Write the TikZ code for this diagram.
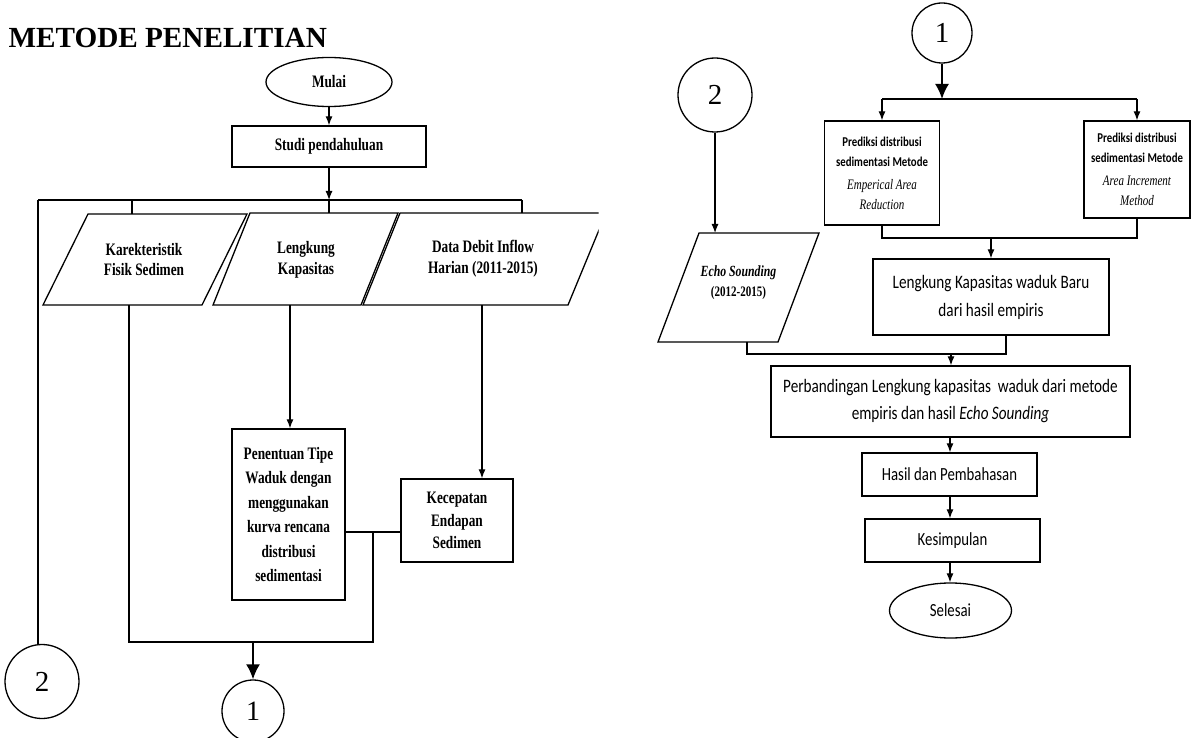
\documentclass[tikz,border=0pt]{standalone}
\usepackage{fontspec}
\setmainfont{Liberation Serif}
\newfontfamily\tnrc[FakeStretch=0.76]{Liberation Serif}
\newfontfamily\carc[FakeStretch=0.8]{Carlito}
\usetikzlibrary{shapes.geometric,arrows.meta,calc}
\begin{document}
\begin{tikzpicture}[x=1pt,y=-1pt,
  line width=1.2pt,
  box/.style={draw, line width=1.3pt, inner sep=0pt, align=center},
  lt/.style={font=\tnrc\bfseries\fontsize{17.5}{20.7}\selectfont, align=center, inner sep=0pt},
  cf/.style={font=\carc\fontsize{19}{28}\selectfont},
  pf/.style={font=\carc\bfseries\fontsize{13.5}{20}\selectfont},
  arr/.style={-{Latex[length=9pt,width=7pt]}, line width=1.2pt},
  bigarr/.style={-{Latex[length=15pt,width=14pt]}, line width=2pt},
  conn/.style={draw, circle, line width=1.3pt, inner sep=0pt, font=\fontsize{29}{30}\selectfont},
  para/.style={draw, line width=1.3pt, line join=miter},
]
\useasboundingbox (0,0) rectangle (1191,738);

% ---------- title ----------
\node[anchor=base west, inner sep=0pt, font=\bfseries\fontsize{29.2}{32}\selectfont] (title) at (8,48) {METODE PENELITIAN};

% ---------- left part ----------
\node[box, ellipse, minimum width=126pt, minimum height=49pt, lt] (mulai) at (329,82) {Mulai};
\node[box, minimum width=194pt, minimum height=41pt, lt] (studi) at (329,146.5) {Studi pendahuluan};
\draw[arr] (mulai) -- (studi);

\coordinate (jL) at (38,200);
\coordinate (jR) at (522,200);
\coordinate (j1) at (329,200);
\draw[arr] (studi) -- (j1);
\draw (jL) -- (jR);

% parallelograms
\draw[para] (88,214) -- (247,214) -- (202,305) -- (43,305) -- cycle;
\node[lt] (p1) at (144,259.5) {Karekteristik\\Fisik Sedimen};
\coordinate (p1top) at (132,214);
\coordinate (p1bot) at (129,305);

\draw[para] (250,213) -- (398,213) -- (361,305) -- (213,305) -- cycle;
\node[lt] (p2) at (306,259.5) {Lengkung\\Kapasitas};
\coordinate (p2top) at (329,213);
\coordinate (p2bot) at (290,305);

\begin{scope}
  \clip (0,0) rectangle (598.5,738);
  \draw[para] (400,213) -- (606,213) -- (568,305) -- (363,305) -- cycle;
\end{scope}
\node[lt] (p3) at (483,258.5) {Data Debit Inflow\\Harian (2011-2015)};
\coordinate (p3top) at (522,213);
\coordinate (p3bot) at (482,305);

\draw (p1top |- jL) -- (p1top);
\draw (j1) -- (p2top);
\draw (jR) -- (p3top);

\node[box, minimum width=113pt, minimum height=171pt,
      font=\tnrc\bfseries\fontsize{17.5}{24.4}\selectfont] (pen) at (288.5,514.5)
      {Penentuan Tipe\\Waduk dengan\\menggunakan\\kurva rencana\\distribusi\\sedimentasi};
\draw[arr] (p2bot) -- (p2bot |- pen.north);

\node[box, minimum width=112pt, minimum height=83pt,
      font=\tnrc\bfseries\fontsize{17.5}{22.5}\selectfont] (kec) at (457,520.5)
      {Kecepatan\\Endapan\\Sedimen};
\draw[arr] (p3bot) -- (p3bot |- kec.north);

\coordinate (m1) at (373,532);
\draw (pen.east |- m1) -- (kec.west |- m1);
\coordinate (bl) at (129,642);
\coordinate (br) at (374,642);
\coordinate (bm) at (253,642);
\draw (p1bot) -- (bl) -- (br);
\draw (m1) -- (m1 |- br);

\node[conn, minimum size=62pt, font=\fontsize{28}{30}\selectfont] (c1a) at (253,711) {1};
\draw[bigarr] (bm) -- (c1a.north);
\node[conn, minimum size=74pt] (c2a) at (42,681.5) {2};
\draw (jL) -- (jL |- c2a.north);

% ---------- right part ----------
\node[conn, minimum size=60pt] (c1b) at (942,33) {1};
\coordinate (k) at (942,99);
\draw[bigarr] (c1b) -- (k);
\coordinate (kL) at (882,99);
\coordinate (kR) at (1137,99);
\draw (kL) -- (kR);

\node[box, pf, minimum width=115pt, minimum height=104pt] (pr1) at (882,173)
  {Prediksi distribusi\\sedimentasi Metode\\[3pt]{\tnrc\mdseries\itshape\fontsize{14.5}{19}\selectfont Emperical Area}\\{\tnrc\mdseries\itshape\fontsize{14.5}{19}\selectfont Reduction}};
\node[box, pf, minimum width=106pt, minimum height=97pt] (pr2) at (1137,169.5)
  {Prediksi distribusi\\sedimentasi Metode\\[3pt]{\tnrc\mdseries\itshape\fontsize{14.5}{19}\selectfont Area Increment}\\{\tnrc\mdseries\itshape\fontsize{14.5}{19}\selectfont Method}};
\draw[arr] (kL) -- (kL |- pr1.north);
\draw[arr] (kR) -- (kR |- pr2.north);

\coordinate (q) at (991,238);
\draw (pr1.south) -- (pr1.south |- q) -- (pr2.south |- q) -- (pr2.south);

\node[box, cf, minimum width=236pt, minimum height=76pt] (lkb) at (991,297)
  {Lengkung Kapasitas waduk Baru\\dari hasil empiris};
\draw[arr] (q) -- (lkb.north);

\node[conn, minimum size=74pt] (c2b) at (715,95) {2};
\draw[para] (699,233) -- (819,233) -- (778,342) -- (658,342) -- cycle;
\node[font=\tnrc\bfseries\fontsize{14.5}{20}\selectfont, align=center, inner sep=0pt] (echo) at (738.5,283)
  {{\itshape\fontsize{15.5}{20}\selectfont Echo Sounding}\\(2012-2015)};
\coordinate (etop) at (715,233);
\coordinate (ebot) at (747,342);
\draw[arr] (c2b) -- (etop);

\coordinate (r) at (951,354);
\coordinate (lkbb) at (1006,335);
\draw (ebot) -- (ebot |- r) -- (lkbb |- r) -- (lkbb);

\node[box, cf, font=\carc\fontsize{19}{27}\selectfont, minimum width=359pt, minimum height=71pt] (perb) at (950.5,401.5)
  {Perbandingan Lengkung kapasitas\ \ waduk dari metode\\empiris dan hasil {\itshape Echo Sounding}};
\draw[arr] (r) -- (r |- perb.north);

\coordinate (ax) at (950,0);
\node[box, font=\carc\fontsize{18.5}{22}\selectfont, minimum width=175pt, minimum height=43pt] (hasil) at (949.5,474.5) {Hasil dan Pembahasan};
\node[box, font=\carc\fontsize{18.5}{22}\selectfont, minimum width=175pt, minimum height=43pt] (kes) at (952.5,540.5) {Kesimpulan};
\node[box, ellipse, font=\carc\fontsize{18.5}{22}\selectfont, minimum width=122pt, minimum height=55pt] (sel) at (950.5,610.5) {Selesai};
\draw[arr] (perb.south -| ax) -- (hasil.north -| ax);
\draw[arr] (hasil.south -| ax) -- (kes.north -| ax);
\draw[arr] (kes.south -| ax) -- (sel.north -| ax);
\end{tikzpicture}
\end{document}
